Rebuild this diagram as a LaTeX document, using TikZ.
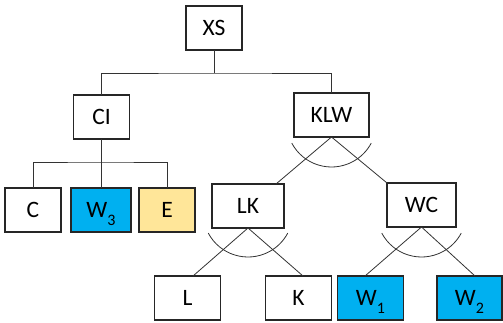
\documentclass[tikz,border=0pt]{standalone}
\usepackage{fontspec}
\setmainfont{Carlito}
\definecolor{wblue}{HTML}{00B0F0}
\definecolor{eyellow}{HTML}{FFE699}
\newcommand{\wsub}[1]{W\smash{\raisebox{-7.5pt}{\fontsize{16}{16}\selectfont #1}}}
\begin{document}
\begin{tikzpicture}[x=1pt,y=-1pt,
  box/.style={draw=black!85,line width=1.2pt,minimum height=44pt,inner sep=0pt,outer sep=0pt,
    font=\fontsize{23.5}{27}\selectfont},
  conn/.style={draw=black!80,line width=0.8pt},
  andarc/.style={draw=black!80,line width=0.8pt}]
\useasboundingbox (0,0) rectangle (503,323);
% nodes
\node[box,minimum width=56pt] (XS) at (214,28) {XS};
\node[box,minimum width=56pt] (CI) at (101.5,117) {CI};
\node[box,minimum width=75pt] (KLW) at (331.5,115) {KLW};
\node[box,minimum width=56pt] (C) at (33,210) {C};
\node[box,minimum width=60pt,fill=wblue] (W3) at (101,210) {\wsub{3}};
\node[box,minimum width=56pt,fill=eyellow] (E) at (167,210) {E};
\node[box,minimum width=72pt] (LK) at (248,206) {LK};
\node[box,minimum width=69pt] (WC) at (421.5,205) {WC};
\node[box,minimum width=66pt] (L) at (187.5,298) {L};
\node[box,minimum width=66pt] (K) at (298.5,298) {K};
\node[box,minimum width=66pt,fill=wblue] (W1) at (370.5,298) {\wsub{1}};
\node[box,minimum width=65pt,fill=wblue] (W2) at (469.5,298) {\wsub{2}};
% tree connectors
\coordinate (j1) at (214,73);
\coordinate (j2) at (101,162);
\draw[conn] (XS.south) -- (j1);
\draw[conn] (CI.north) |- (j1) -| (KLW.north);
\draw[conn] (CI.south) -- (CI.south |- j2);
\draw[conn] (C.north) |- (j2) -| (E.north);
\draw[conn] (W3.north) -- (W3.north |- j2);
% and-decomposition connectors
\draw[conn] (KLW.south) -- ([xshift=-8pt]LK.north east);
\draw[conn] (KLW.south) -- (WC.north west);
\draw[conn] (LK.south) -- ([xshift=5.5pt]L.north);
\draw[conn] (LK.south) -- ([xshift=4.5pt]K.north);
\draw[conn] (WC.south) -- ([xshift=-5.5pt]W1.north);
\draw[conn] (WC.south) -- ([xshift=5.5pt]W2.north);
% arcs
\coordinate (a1) at ([yshift=15pt]KLW.south);
\coordinate (a2) at ([yshift=16pt]LK.south);
\coordinate (a3) at ([yshift=15pt]WC.south);
\foreach \c in {a1,a2,a3}
  \draw[andarc] ([shift={(208:45pt)}]\c) arc[start angle=208,end angle=332,radius=45pt];
\end{tikzpicture}
\end{document}
